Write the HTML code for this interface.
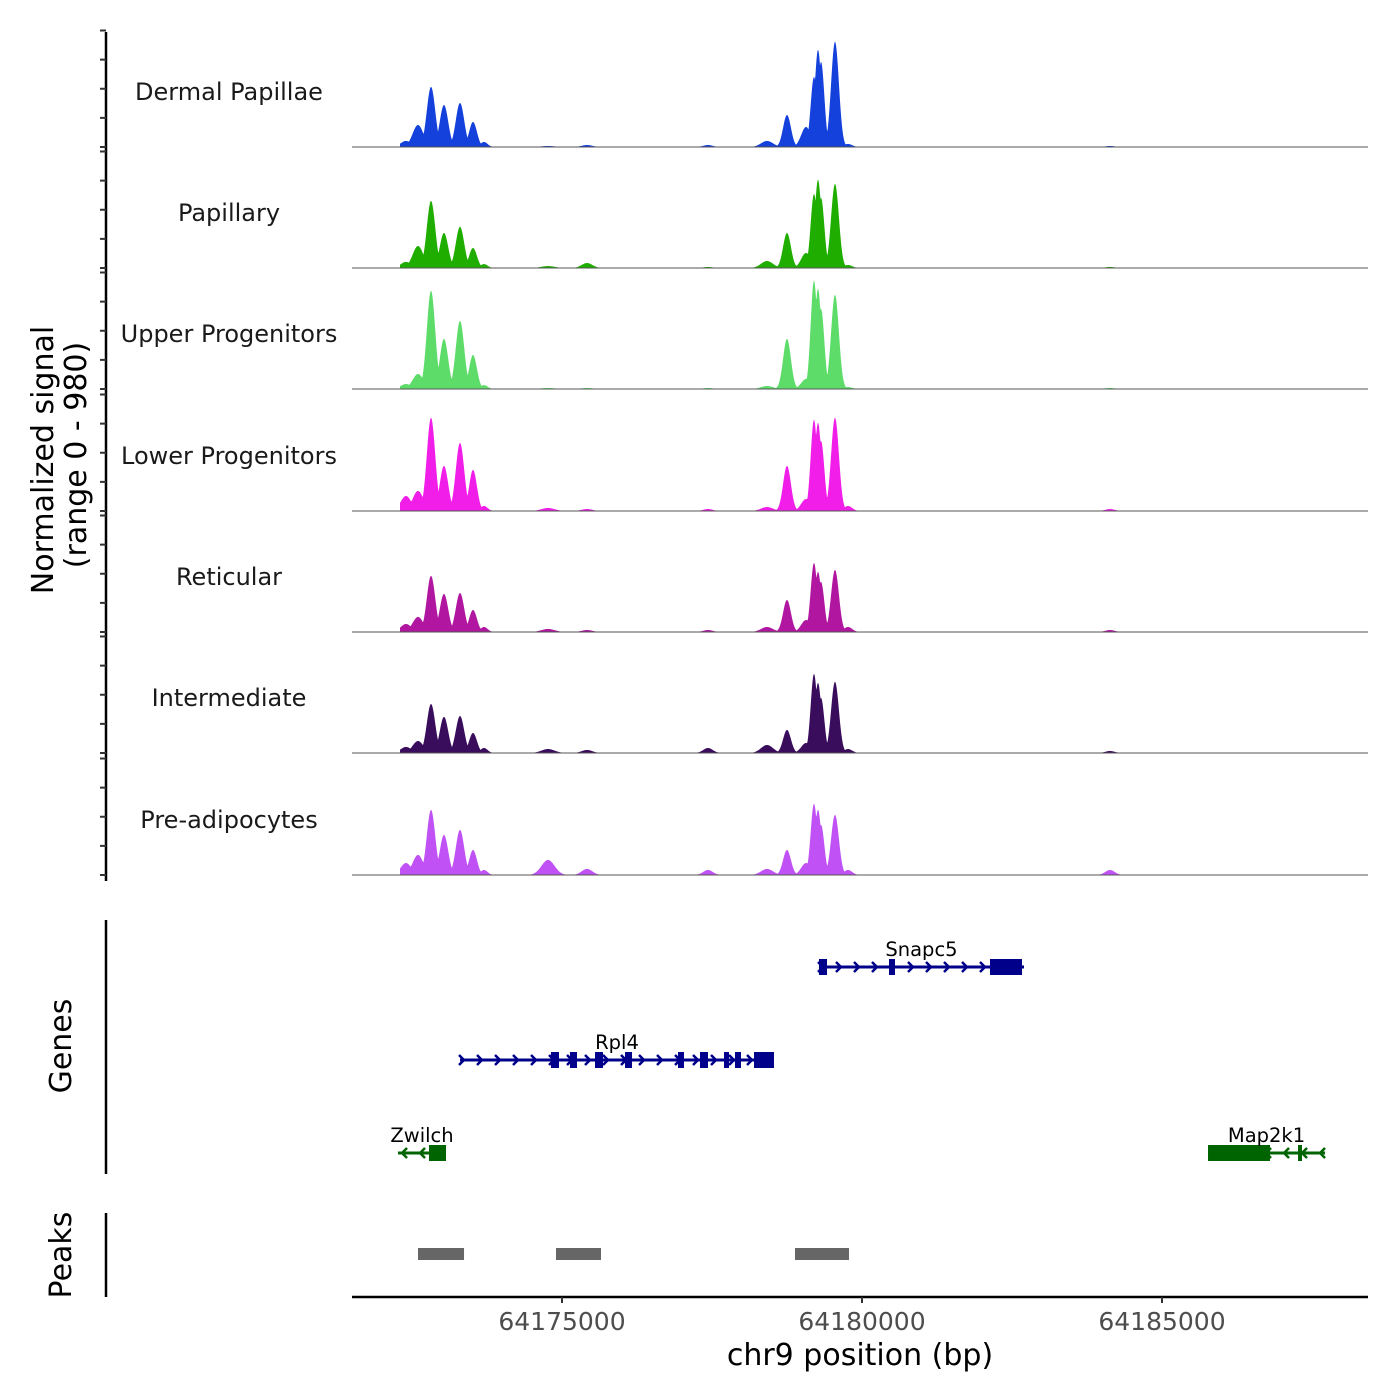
<!DOCTYPE html>
<html><head><meta charset="utf-8">
<style>
html,body{margin:0;padding:0;background:#fff;}
svg{display:block;font-family:"DejaVu Sans","Liberation Sans",sans-serif;}
</style></head>
<body>
<svg id="chart" width="1400" height="1400" viewBox="0 0 1400 1400" xmlns="http://www.w3.org/2000/svg">
<rect x="0" y="0" width="1400" height="1400" fill="#fff"/>
<g id="tracks"></g>
<g id="genes"></g>
<g id="peaks"></g>
<g id="axes"></g>
<text x="53" y="460" font-size="30" text-anchor="middle" transform="rotate(-90 53 460)" fill="#000">Normalized signal</text>
<text x="86" y="455" font-size="30" text-anchor="middle" transform="rotate(-90 86 455)" fill="#000">(range 0 - 980)</text>
<text x="71" y="1046" font-size="30" text-anchor="middle" transform="rotate(-90 71 1046)" fill="#000">Genes</text>
<text x="71" y="1255" font-size="30" text-anchor="middle" transform="rotate(-90 71 1255)" fill="#000">Peaks</text>
<text x="860" y="1365" font-size="30" text-anchor="middle" fill="#000">chr9 position (bp)</text>
</svg>
<script>
// ---- data ----
const trackNames = ["Dermal Papillae","Papillary","Upper Progenitors","Lower Progenitors","Reticular","Intermediate","Pre-adipocytes"];
const trackColors = ["#1440dc","#1fad00","#5edc6a","#f01ee8","#b0169f","#3a0c5c","#c052f5"];
const peakPos = [64172400,64172600,64172817,64173033,64173300,64173517,64173700,64174767,64175417,64177433,64178417,64178750,64179067,64179200,64179267,64179317,64179550,64179767,64184133];
const peakSigma = [90,90,70,70,70,65,60,110,90,80,100,65,80,55,55,55,65,70,80];
const sigDP   = [52,189,516,361,378,215,43,9,17,17,52,275,172,602,834,731,903,26,9];
const sigPap  = [52,189,576,301,353,172,34,17,43,9,60,301,129,636,757,602,722,26,9];
const sigUp   = [43,129,843,430,585,292,34,9,9,9,26,430,86,929,860,688,808,17,9];
const sigLow  = [129,172,800,387,585,353,43,26,17,17,34,387,103,783,757,602,800,43,17];
const sigRet  = [69,129,482,327,335,189,43,26,17,17,43,275,103,593,516,430,533,43,17];
const sigInt  = [52,103,421,310,318,172,43,34,26,43,69,198,86,679,602,473,611,34,17];
const sigPre  = [103,172,559,344,387,215,43,129,52,43,52,215,103,611,559,430,516,43,43];
const signals = [sigDP,sigPap,sigUp,sigLow,sigRet,sigInt,sigPre];
const yTicks = [0,250,500,750,1000];
const xTicks = [64175000,64180000,64185000];
const xTickLabels = ["64175000","64180000","64185000"];
const geneNames = ["Snapc5","Rpl4","Zwilch","Map2k1"];
const geneStart = [64179283,64173300,64172267,64185767];
const geneEnd   = [64182700,64178533,64173067,64187717];
const geneStrand = [1,1,-1,-1];
const geneRow = [0,1,2,2];
const geneExons = [
  [[64179283,64179417],[64180450,64180550],[64182133,64182667]],
  [[64174817,64174950],[64175133,64175250],[64175550,64175683],[64176050,64176167],[64176933,64177033],[64177300,64177433],[64177700,64177783],[64177883,64177983],[64178200,64178533]],
  [[64172783,64173067]],
  [[64185767,64186800],[64187267,64187333]]
];
const peakStart = [64172600,64174900,64178883];
const peakEnd   = [64173367,64175650,64179783];

// ---- scales ----
const NS="http://www.w3.org/2000/svg";
const X0=352,X1=1368,BP0=64171500,BPPX=0.06;
const xs = bp => X0+(bp-BP0)*BPPX;
const baselines=[147,268,389,511,632,753,875];
const YK=0.1165;
function mk(tag,attrs,parent){const e=document.createElementNS(NS,tag);for(const k in attrs)e.setAttribute(k,attrs[k]);parent.appendChild(e);return e;}

const tg=document.getElementById('tracks');
signals.forEach((sig,t)=>{
  const b=baselines[t];
  const g=mk('g',{},tg);
  
  
  let d='M400 '+b;
  for(let px=400;px<=1325;px+=0.5){
    const bp=BP0+(px-X0)/BPPX;
    let v=1.5;
    for(let i=0;i<peakPos.length;i++){const z=(bp-peakPos[i])/peakSigma[i];const w=sig[i]*Math.exp(-0.5*z*z);if(w>v)v=w;}
    d+=' L'+px+' '+(b-v*YK).toFixed(2);
  }
  d+=' L1325 '+b+' Z';
  const p=mk('path',{d:d,fill:trackColors[t],stroke:'none'},g);
  
  
  const l=mk('line',{x1:X0,x2:X1,y1:b,y2:b,stroke:'#555','stroke-width':1},g);
  
  
  const tx=mk('text',{x:229,y:b-47,'font-size':24,'text-anchor':'middle',fill:'#1a1a1a'},g);
  tx.textContent=trackNames[t];
  
  
});

// genes
const gg=document.getElementById('genes');
const rowY=[967,1060,1153];
geneNames.forEach((n,i)=>{
  const y=rowY[geneRow[i]];
  const col=geneStrand[i]>0?'#00008b':'#006400';
  const g=mk('g',{},gg);
  
  
  const xa=xs(geneStart[i]),xb=xs(geneEnd[i]);
  mk('line',{x1:xa,x2:xb,y1:y,y2:y,stroke:col,'stroke-width':3},g);
  for(let x=xa+4;x<xb-2;x+=18){
    const s=geneStrand[i]*5;
    mk('polyline',{points:`${x-s},${y-5} ${x},${y} ${x-s},${y+5}`,fill:'none',stroke:col,'stroke-width':2.5},g);
  }
  geneExons[i].forEach(ex=>{
    const e=mk('rect',{x:xs(ex[0]),y:y-8,width:Math.max(3,xs(ex[1])-xs(ex[0])),height:16,fill:col},g);
    
    
  });
  const tx=mk('text',{x:(xa+xb)/2,y:y-11,'font-size':19.5,'text-anchor':'middle',fill:'#000'},g);
  tx.textContent=n;
  
  
});

// peaks
const pg=document.getElementById('peaks');
peakStart.forEach((s,i)=>{
  const r=mk('rect',{x:xs(s),y:1248,width:xs(peakEnd[i])-xs(s),height:12,fill:'#666'},pg);
  
  
});

// axes
const ag=document.getElementById('axes');
mk('line',{x1:106,x2:106,y1:32,y2:881,stroke:'#000','stroke-width':2.5},ag);
baselines.forEach(b=>{
  yTicks.forEach(v=>{
    const y=b-v*YK;
    if(y<30)return;
    mk('line',{x1:100,x2:106,y1:y,y2:y,stroke:'#333','stroke-width':2},ag);
  });
});
mk('line',{x1:106,x2:106,y1:920,y2:1174,stroke:'#000','stroke-width':2.5},ag);
mk('line',{x1:106,x2:106,y1:1213,y2:1297,stroke:'#000','stroke-width':2.5},ag);
mk('line',{x1:X0,x2:X1,y1:1297,y2:1297,stroke:'#000','stroke-width':2.5},ag);
xTicks.forEach((v,i)=>{
  const x=xs(v);
  mk('line',{x1:x,x2:x,y1:1297,y2:1303,stroke:'#333','stroke-width':2},ag);
  const t=mk('text',{x:x,y:1330,'font-size':25,'text-anchor':'middle',fill:'#4d4d4d'},ag);
  t.textContent=xTickLabels[i];
  
  
});
</script>
</body></html>
